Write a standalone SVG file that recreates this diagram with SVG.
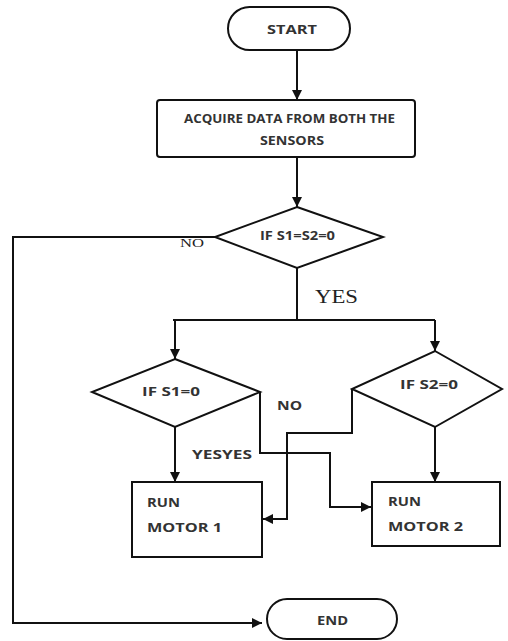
<svg xmlns="http://www.w3.org/2000/svg" width="508" height="641" viewBox="0 0 508 641">
<style>
.s{fill:#fff;stroke:#111;stroke-width:2}
.c{fill:none;stroke:#111;stroke-width:2}
.t{font-family:"Open Sans","Liberation Sans",sans-serif;font-weight:bold;font-size:12px;fill:#333}
.r{font-family:"Liberation Serif",serif;fill:#222}
</style>
<defs>
<marker id="a" viewBox="0 0 10 10" refX="10" refY="5" markerWidth="5" markerHeight="5" orient="auto" markerUnits="strokeWidth">
<path d="M0,0L10,5L0,10z" fill="#111"/>
</marker>
</defs>
<rect width="508" height="641" fill="#fff"/>
<g id="connectors">
<path class="c" d="M297,50V100" marker-end="url(#a)"/>
<path class="c" d="M297,157V207" marker-end="url(#a)"/>
<path class="c" d="M215,237H13V623H262" marker-end="url(#a)"/>
<path class="c" d="M297,268V320"/>
<path class="c" d="M173,320H435"/>
<path class="c" d="M175,320V359" marker-end="url(#a)"/>
<path class="c" d="M435,320V351" marker-end="url(#a)"/>
<path class="c" d="M175,427V482" marker-end="url(#a)"/>
<path class="c" d="M435,427V482" marker-end="url(#a)"/>
<path class="c" d="M260,392V453H330V507H371" marker-end="url(#a)"/>
<path class="c" d="M352,389V433H287V519H263" marker-end="url(#a)"/>
</g>
<g id="start">
<rect class="s" x="228" y="7" width="122" height="43" rx="21.5"/>
<text class="t" x="267" y="34" textLength="50" lengthAdjust="spacingAndGlyphs">START</text>
</g>
<g id="acquire">
<rect class="s" x="157" y="100" width="258" height="57" rx="3"/>
<text class="t" x="184" y="123" font-size="10" textLength="211" lengthAdjust="spacingAndGlyphs">ACQUIRE DATA FROM BOTH THE</text>
<text class="t" x="260" y="145" font-size="10" textLength="64" lengthAdjust="spacingAndGlyphs">SENSORS</text>
</g>
<g id="decision1">
<polygon class="s" points="297,207 383,237 297,268 215,237"/>
<text class="t" x="260" y="240" font-size="9" textLength="75" lengthAdjust="spacingAndGlyphs">IF S1=S2=0</text>
</g>
<g id="decision2">
<polygon class="s" points="175,359 260,392 175,427 92,392"/>
<text class="t" x="142" y="396" font-size="13" textLength="58" lengthAdjust="spacingAndGlyphs">IF S1=0</text>
</g>
<g id="decision3">
<polygon class="s" points="435,351 502,389 435,427 352,389"/>
<text class="t" x="400" y="389" font-size="13" textLength="58" lengthAdjust="spacingAndGlyphs">IF S2=0</text>
</g>
<g id="motor1">
<rect class="s" x="132" y="482" width="130" height="75"/>
<text class="t" x="147" y="507" font-size="13" textLength="33" lengthAdjust="spacingAndGlyphs">RUN</text>
<text class="t" x="147" y="532" font-size="13" textLength="75" lengthAdjust="spacingAndGlyphs">MOTOR 1</text>
</g>
<g id="motor2">
<rect class="s" x="372" y="482" width="128" height="64"/>
<text class="t" x="388" y="506" font-size="13" textLength="33" lengthAdjust="spacingAndGlyphs">RUN</text>
<text class="t" x="388" y="531" font-size="13" textLength="75" lengthAdjust="spacingAndGlyphs">MOTOR 2</text>
</g>
<g id="end">
<rect class="s" x="267" y="599" width="130" height="40" rx="20"/>
<text class="t" x="317" y="625" font-size="13" textLength="31" lengthAdjust="spacingAndGlyphs">END</text>
</g>
<g id="labels">
<text class="r" x="180" y="247" font-size="12" textLength="24" lengthAdjust="spacingAndGlyphs">NO</text>
<text class="r" x="315" y="303" font-size="19" textLength="43" lengthAdjust="spacingAndGlyphs">YES</text>
<text class="t" x="277" y="410" font-size="12" textLength="25" lengthAdjust="spacingAndGlyphs">NO</text>
<text class="t" x="192" y="459" font-size="12" textLength="60" lengthAdjust="spacingAndGlyphs">YESYES</text>
</g>
</svg>
